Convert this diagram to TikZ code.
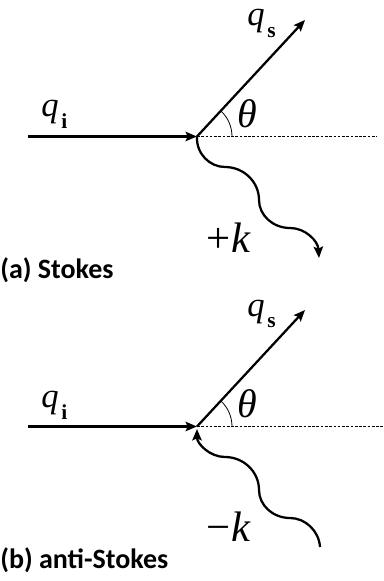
\documentclass[tikz,border=0pt]{standalone}
\usepackage{fontspec}
\setmainfont{Liberation Serif}
\newfontfamily\calib{Carlito}
\usetikzlibrary{arrows.meta,angles}
\newcommand{\mysub}[2]{\raisebox{#1}{\fontsize{16}{16}\selectfont\upshape\bfseries #2}}
\begin{document}
\begin{tikzpicture}[x=0.75pt,y=-0.75pt,
  tip/.style={-{Stealth[length=8.5pt,width=7pt,inset=1.5pt]}},
  vec/.style={line width=1.7pt,tip},
  wave/.style={line width=1.7pt},
  refline/.style={line width=0.6pt,dash pattern=on 2pt off 1.2pt},
  lbl/.style={inner sep=0pt,anchor=base west},
  qf/.style={font=\fontsize{26}{26}\selectfont\itshape},
  thf/.style={font=\fontsize{30}{30}\selectfont\itshape},
  kf/.style={font=\fontsize{32}{32}\selectfont},
  capf/.style={font=\fontsize{21}{21}\selectfont\calib\bfseries}]
\useasboundingbox (0,0) rectangle (384,581);
% ---------- panel (a)
\coordinate (A0) at (28,136.5);
\coordinate (AV) at (197,136.5);
\coordinate (AS) at (305,20);
\coordinate (AD) at (377,136.5);
\coordinate (AK) at (319,258);
\draw[refline] (AV) -- (AD);
\draw[vec] (A0) -- (AV);
\draw[vec] (AV) -- (AS);
\pic[draw,line width=0.6pt,angle radius=26.25pt] {angle=AD--AV--AS};
\draw[wave,tip] (AV)
  .. controls (196,153.5) and (209.6,167) .. (225,167)
  .. controls (243.7,167) and (259,181.8) .. (259,200)
  .. controls (259,215.4) and (273,228) .. (290,228)
  .. controls (305.4,228) and (318,241) .. (AK);
\node[lbl,qf] (qia) at (41,117) {q\kern2pt\mysub{-9pt}{i}};
\node[lbl,qf] (qsa) at (247,26) {q\kern2pt\mysub{-8.5pt}{s}};
\node[lbl,thf] (tha) at (237,127.5) {θ};
\node[lbl,kf] (ka) at (206,252) {+\kern1pt\textit{k}};
\node[lbl,capf] (capa) at (0,278) {(a) Stokes};
% ---------- panel (b)
\coordinate (B0) at (28,426.5);
\coordinate (BV) at (197,426.5);
\coordinate (BS) at (305,310);
\coordinate (BD) at (384,426.5);
\coordinate (BK) at (320,547);
\draw[refline] (BV) -- (BD);
\draw[vec] (B0) -- (BV);
\draw[vec] (BV) -- (BS);
\pic[draw,line width=0.6pt,angle radius=26.25pt] {angle=BD--BV--BS};
\draw[wave,tip] (BK)
  .. controls (319,531) and (305.4,518) .. (290,518)
  .. controls (273,518) and (259,505.4) .. (259,490)
  .. controls (259,471.8) and (243.7,457) .. (225,457)
  .. controls (209.6,457) and (197,443.5) .. (197,429);
\node[lbl,qf] (qib) at (41,407) {q\kern2pt\mysub{-9pt}{i}};
\node[lbl,qf] (qsb) at (247,316) {q\kern2pt\mysub{-8.5pt}{s}};
\node[lbl,thf] (thb) at (237,417.5) {θ};
\node[lbl,kf] (kb) at (206,541) {−\kern1pt\textit{k}};
\node[lbl,capf] (capb) at (0,568) {(b) anti-Stokes};
\end{tikzpicture}
\end{document}
